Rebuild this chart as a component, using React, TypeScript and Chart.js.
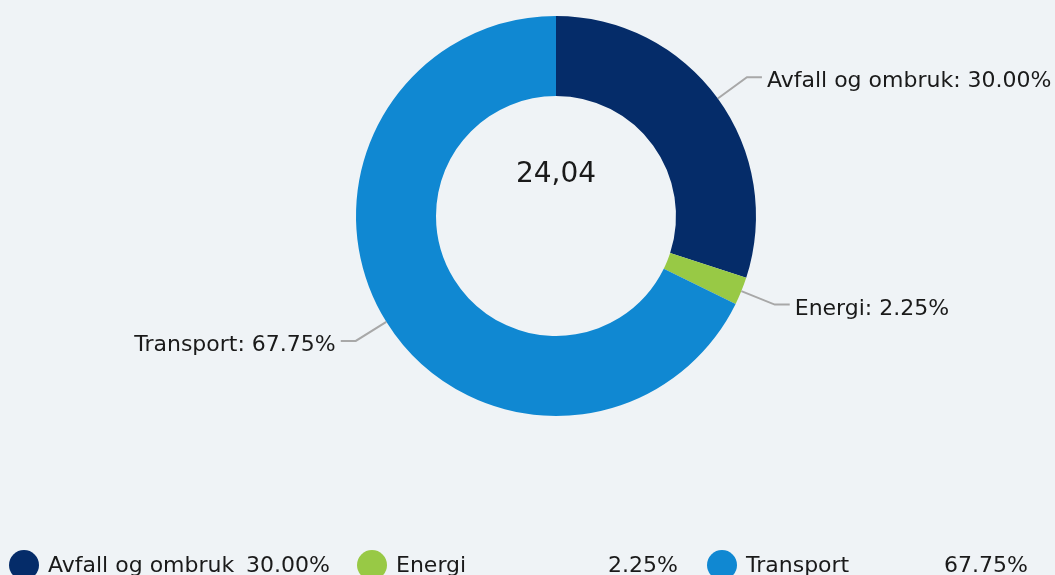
import React, { useEffect, useRef } from "react";
import { Chart, registerables } from "chart.js";

Chart.register(...registerables);

const categories = ["Avfall og ombruk", "Energi", "Transport"];
const shares = [30.0, 2.25, 67.75];
const totalLabel = "24,04";
const sliceColors = ["#052c69", "#98c945", "#1088d2"];
const legendColumns = [24, 372, 722];

const BG = "#eff3f6";
const FONT = "22px 'DejaVu Sans', Verdana, sans-serif";

const drawPlugin = {
  id: "customDraw",
  beforeDraw(chart: any) {
    const ctx = chart.ctx;
    ctx.save();
    ctx.fillStyle = BG;
    ctx.fillRect(0, 0, chart.width, chart.height);
    ctx.restore();
  },
  afterDatasetsDraw(chart: any) {
    const ctx = chart.ctx;
    const meta = chart.getDatasetMeta(0);
    ctx.save();
    ctx.font = FONT;
    ctx.fillStyle = "#1a1a1a";
    ctx.textBaseline = "alphabetic";
    meta.data.forEach((arc: any, i: number) => {
      const { x, y, startAngle, endAngle, outerRadius } = arc.getProps(
        ["x", "y", "startAngle", "endAngle", "outerRadius"],
        true
      );
      const mid = (startAngle + endAngle) / 2;
      const c = Math.cos(mid);
      const s = Math.sin(mid);
      const x0 = x + c * outerRadius;
      const y0 = y + s * outerRadius;
      const r1 = outerRadius + 36;
      const x1 = x + c * r1;
      const y1 = y + s * r1;
      const dir = c >= 0 ? 1 : -1;
      const x2 = x1 + dir * 15;
      ctx.strokeStyle = "#a8a8a8";
      ctx.lineWidth = 2;
      ctx.beginPath();
      ctx.moveTo(x0, y0);
      ctx.lineTo(x1, y1);
      ctx.lineTo(x2, y1);
      ctx.stroke();
      const text = `${categories[i]}: ${shares[i].toFixed(2)}%`;
      ctx.textAlign = dir > 0 ? "left" : "right";
      ctx.fillText(text, x2 + dir * 5, y1 + 10);
    });

    // center total
    const a0: any = meta.data[0];
    ctx.font = "28px 'DejaVu Sans', Verdana, sans-serif";
    ctx.textAlign = "center";
    ctx.fillText(totalLabel, a0.x, a0.y - 34);

    // legend
    ctx.font = FONT;
    categories.forEach((cat, i) => {
      const cx = legendColumns[i];
      ctx.fillStyle = sliceColors[i];
      ctx.beginPath();
      ctx.ellipse(cx, 565, 15, 15, 0, 0, Math.PI * 2);
      ctx.fill();
      ctx.fillStyle = "#1a1a1a";
      ctx.textAlign = "left";
      ctx.fillText(cat, cx + 24, 572);
      ctx.textAlign = "right";
      ctx.fillText(`${shares[i].toFixed(2)}%`, cx + 306, 572);
    });
    ctx.restore();
  },
};

export default function App() {
  const ref = useRef<HTMLCanvasElement | null>(null);
  useEffect(() => {
    document.body.style.margin = "0";
    document.body.style.background = BG;
    const chart = new Chart(ref.current as HTMLCanvasElement, {
      type: "doughnut",
      data: {
        labels: categories,
        datasets: [
          {
            data: shares,
            backgroundColor: sliceColors,
            borderWidth: 0,
            hoverOffset: 0,
          },
        ],
      },
      options: {
        responsive: false,
        animation: false,
        events: [],
        cutout: "60%",
        layout: { padding: { left: 356, right: 299, top: 16, bottom: 159 } },
        plugins: {
          legend: { display: false },
          tooltip: { enabled: false },
        },
      },
      plugins: [drawPlugin],
    });
    return () => chart.destroy();
  }, []);
  return (
    <div style={{ position: "fixed", left: 0, top: 0, width: 1055, height: 575 }}>
      <canvas ref={ref} width={1055} height={575} />
    </div>
  );
}
